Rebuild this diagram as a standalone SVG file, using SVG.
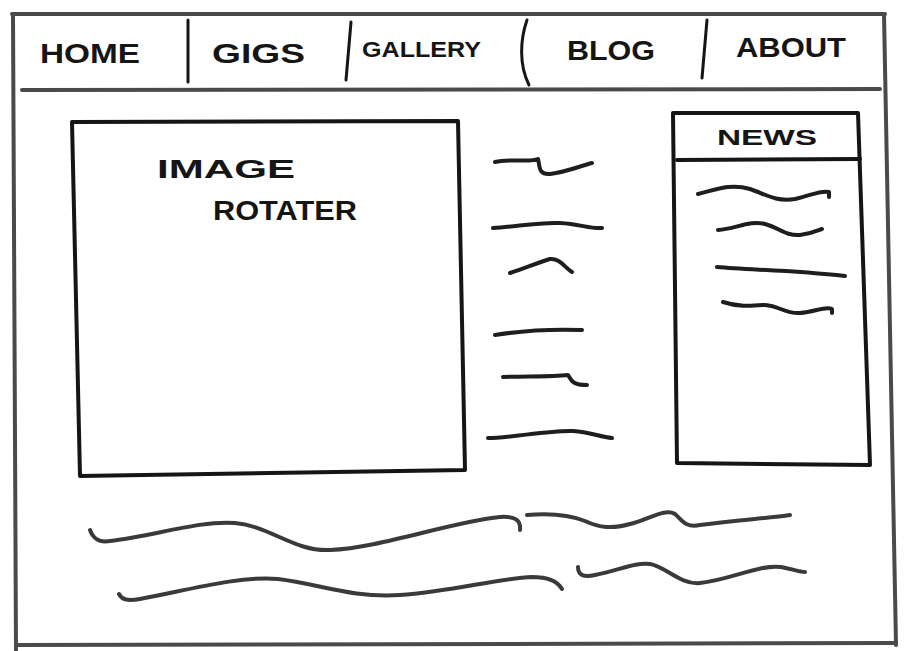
<svg xmlns="http://www.w3.org/2000/svg" width="907" height="651" viewBox="0 0 907 651">
<style>
.frame{fill:none;stroke:#4a4a4a;stroke-width:4;stroke-linecap:round;stroke-linejoin:round}
.ink{fill:none;stroke:#151515;stroke-width:4;stroke-linecap:round;stroke-linejoin:round}
.sep{fill:none;stroke:#151515;stroke-width:3;stroke-linecap:round}
.sq{fill:none;stroke:#1e1e1e;stroke-width:4;stroke-linecap:round;stroke-linejoin:round}
.sqg{fill:none;stroke:#3a3a3a;stroke-width:4;stroke-linecap:round;stroke-linejoin:round}
.hand{font-family:"Liberation Sans","DejaVu Sans",sans-serif;font-weight:bold;fill:#151515}
</style>
<rect width="907" height="651" fill="#ffffff"/>
<g id="frame">
<path class="frame" d="M12,14 L885,14"/>
<path class="frame" d="M13,14 L16,651"/>
<path class="frame" d="M884,14 L896,645"/>
<path class="frame" d="M16,645 L896,643"/>
</g>
<g id="nav">
<path class="frame" d="M22,90 L880,89"/>
<path class="sep" d="M188,20 L188,82"/>
<path class="sep" d="M351,22 L346,80"/>
<path class="sep" d="M527,20 C520,40 519,65 529,85"/>
<path class="sep" d="M707,20 L702,78"/>
<text class="hand" x="40" y="63" font-size="28" textLength="100" lengthAdjust="spacingAndGlyphs">HOME</text>
<text class="hand" x="212" y="63" font-size="28" textLength="93" lengthAdjust="spacingAndGlyphs">GIGS</text>
<text class="hand" x="362" y="57" font-size="22" textLength="119" lengthAdjust="spacingAndGlyphs">GALLERY</text>
<text class="hand" x="567" y="60" font-size="27" textLength="88" lengthAdjust="spacingAndGlyphs">BLOG</text>
<text class="hand" x="736" y="57" font-size="27" textLength="110" lengthAdjust="spacingAndGlyphs">ABOUT</text>
</g>
<g id="image-rotater">
<path class="ink" d="M72,122 L458,121 L465,470 M465,470 L80,476 L72,122" stroke-width="4.5"/>
<text class="hand" x="157" y="178" font-size="25" textLength="138" lengthAdjust="spacingAndGlyphs">IMAGE</text>
<text class="hand" x="213" y="220" font-size="27" textLength="144" lengthAdjust="spacingAndGlyphs">ROTATER</text>
</g>
<g id="text-column">
<path class="sq" d="M495,162 C510,158 530,163 538,159 C540,166 538,175 550,174 C567,172 580,166 592,163"/>
<path class="sq" d="M493,228 C520,226 540,222 560,223 C580,224 590,229 602,228"/>
<path class="sq" d="M510,273 C525,268 540,262 550,259 C560,258 565,268 572,272"/>
<path class="sq" d="M495,335 C520,331 555,329 582,330"/>
<path class="sq" d="M503,377 C525,376 550,377 568,375 C571,380 572,385 587,385"/>
<path class="sq" d="M488,438 C510,438 550,430 573,431 C590,432 600,437 612,438"/>
</g>
<g id="news">
<path class="ink" d="M673,113 L858,113 L870,465 L677,463 Z"/>
<path class="ink" d="M677,160 L860,159"/>
<text class="hand" x="717" y="145" font-size="22" textLength="100" lengthAdjust="spacingAndGlyphs">NEWS</text>
<path class="sq" d="M698,194 C715,190 730,183 750,189 C765,194 775,202 795,199 C810,196 820,190 829,192 L829,197"/>
<path class="sq" d="M718,230 C735,229 750,220 765,224 C780,228 785,236 800,235 C812,234 818,230 822,229"/>
<path class="sq" d="M717,267 C750,270 790,270 845,276"/>
<path class="sq" d="M723,302 C738,307 750,306 765,305 C780,306 785,314 800,313 C815,312 825,306 832,309 L832,313"/>
</g>
<g id="footer-text">
<path class="sqg" d="M90,530 C93,538 98,543 110,541 C150,537 200,520 235,523 C270,526 295,552 330,550 C380,548 450,522 500,517 C515,516 521,520 520,530"/>
<path class="sqg" d="M527,515 C550,513 570,515 585,521 C600,528 612,529 630,524 C650,519 665,508 675,514 C682,520 685,528 700,525 C740,520 770,518 790,515"/>
<path class="sqg" d="M119,594 C122,600 128,601 140,599 C180,592 240,575 278,579 C320,584 350,598 400,595 C450,592 500,578 532,577 C548,577 558,582 562,589"/>
<path class="sqg" d="M578,567 C578,574 582,578 595,575 C620,570 635,562 650,564 C665,566 680,585 700,583 C730,580 760,564 781,567 C792,569 800,572 805,572"/>
</g>
</svg>
